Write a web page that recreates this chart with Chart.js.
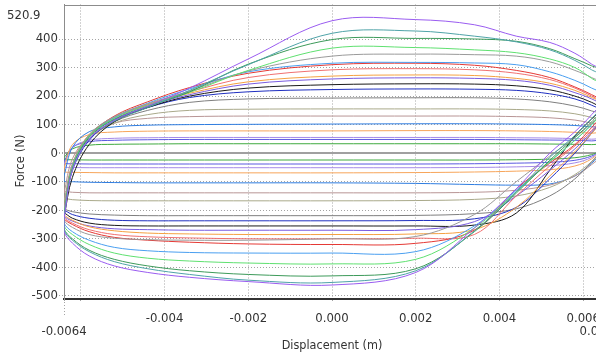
<!DOCTYPE html>
<html>
<head>
<meta charset="utf-8">
<script src="https://cdn.jsdelivr.net/npm/chart.js@4.4.1/dist/chart.umd.min.js"></script>
<style>
  html, body { margin: 0; padding: 0; background: #fff; overflow: hidden; }
  #wrap { width: 612px; height: 353px; }
</style>
</head>
<body>
<div id="wrap"><canvas id="loopChart" width="612" height="353"></canvas></div>
<script>
// =============================================================================
// Force / displacement hysteresis loops
// =============================================================================

// Displacement sample positions (m), shared by every branch
const XS = [-0.0064, -0.0062, -0.0058, -0.0052, -0.0044, -0.0034, -0.002, 0, 0.002, 0.0034, 0.0044, 0.0052, 0.0058, 0.0062, 0.0064];

const X_TICKS = [-0.0064, -0.006, -0.004, -0.002, 0, 0.002, 0.004, 0.006, 0.0064];
const Y_TICKS = [-500, -400, -300, -200, -100, 0, 100, 200, 300, 400];
const Y_MAX_LABEL = "520.9";
const X_TITLE = "Displacement (m)";
const Y_TITLE = "Force (N)";

// Force (N) read at XS: "Up" = outgoing branch, "Down" = return branch (both listed left to right)
const purpleUp = [-230, -60, 50, 115, 165, 228, 330, 464, 468, 450, 410, 388, 350, 312, 290];
const purpleDown = [-275, -315, -360, -395, -418, -435, -450, -462, -418, -262, -125, 0, 75, 135, 175];
const tealUp = [-225, -60, 50, 112, 160, 220, 310, 420, 428, 410, 390, 362, 325, 292, 272];
const tealDown = [-270, -305, -345, -380, -405, -425, -445, -453, -412, -272, -135, -15, 62, 122, 160];
const dkGreenUp = [-220, -55, 55, 118, 163, 215, 312, 398, 402, 400, 392, 366, 331, 306, 290];
const dkGreenDown = [-265, -300, -340, -372, -395, -412, -425, -430, -405, -275, -140, -25, 55, 110, 150];
const ltGreenUp = [-215, -50, 60, 122, 168, 213, 290, 368, 370, 362, 352, 330, 300, 262, 240];
const ltGreenDown = [-255, -285, -320, -350, -368, -378, -385, -388, -372, -262, -135, -30, 45, 100, 140];
const grayUp = [-200, -40, 65, 128, 173, 218, 288, 340, 347, 345, 340, 320, 290, 265, 245];
const grayDown = [-235, -260, -285, -298, -303, -305, -305, -300, -292, -215, -100, -10, 55, 105, 140];
const ltBlueUp = [-210, -45, 60, 125, 175, 225, 285, 315, 318, 316, 310, 285, 255, 228, 210];
const ltBlueDown = [-245, -275, -305, -330, -342, -348, -350, -350, -345, -255, -130, -30, 45, 100, 140];
const redUp = [-215, -50, 60, 130, 180, 230, 280, 310, 315, 308, 290, 265, 232, 205, 185];
const redDown = [-230, -250, -275, -295, -305, -312, -318, -320, -316, -270, -125, -35, 30, 90, 130];
const salmonUp = [-205, -45, 60, 125, 170, 215, 265, 292, 296, 292, 280, 258, 228, 200, 180];
const salmonDown = [-225, -245, -268, -285, -293, -297, -300, -300, -298, -285, -150, -45, 25, 80, 120];
const orangeUp = [-200, -40, 65, 125, 170, 210, 250, 270, 274, 272, 262, 245, 220, 195, 178];
const orangeDown = [-215, -235, -258, -272, -280, -283, -285, -285, -283, -268, -190, -80, 5, 70, 110];
const violetUp = [-205, -45, 60, 120, 165, 205, 242, 260, 264, 262, 255, 238, 212, 190, 170];
const violetDown = [-220, -238, -255, -265, -268, -270, -270, -270, -268, -240, -150, -60, 15, 75, 115];
const blackUp = [-225, -85, 30, 110, 160, 200, 228, 240, 243, 242, 236, 222, 200, 178, 160];
const blackDown = [-210, -228, -245, -253, -255, -255, -255, -255, -255, -252, -210, -60, 60, 120, 150];
const dkBlueUp = [-210, -60, 45, 115, 160, 195, 215, 223, 225, 224, 220, 208, 190, 168, 150];
const dkBlueDown = [-200, -215, -228, -235, -237, -237, -237, -237, -236, -230, -190, -90, 0, 70, 110];
const gray2Up = [-190, -50, 50, 110, 150, 178, 190, 193, 194, 194, 190, 180, 165, 148, 135];
const gray2Down = [-195, -205, -213, -217, -219, -219, -219, -219, -218, -212, -195, -150, -90, -30, 10];
const khakiUp = [-170, -40, 50, 105, 135, 150, 154, 155, 155, 155, 153, 148, 138, 125, 115];
const khakiDown = [-160, -163, -166, -167, -167, -167, -167, -167, -166, -162, -150, -120, -75, -30, 0];
const mauveUp = [-140, -20, 60, 105, 122, 128, 130, 130, 130, 130, 128, 124, 116, 105, 95];
const mauveDown = [-135, -137, -139, -139, -139, -139, -139, -139, -139, -137, -130, -112, -80, -40, -10];
const blueUp = [-80, 20, 75, 92, 98, 100, 101, 102, 103, 103, 102, 100, 97, 92, 88];
const blueDown = [-98, -100, -102, -103, -104, -104, -104, -104, -106, -110, -112, -108, -80, -35, 0];
const orange2Up = [-55, 30, 65, 74, 77, 78, 78, 78, 79, 79, 78, 76, 73, 70, 68];
const orange2Down = [-65, -67, -68, -69, -69, -69, -69, -69, -68, -66, -63, -58, -45, -20, 10];
const lavenderUp = [-40, 20, 45, 52, 54, 55, 55, 55, 55, 55, 54, 53, 51, 49, 47];
const lavenderDown = [-48, -50, -51, -51, -51, -51, -51, -51, -51, -50, -48, -44, -34, -15, 10];
const bVioletUp = [-30, 20, 40, 45, 47, 48, 48, 48, 48, 48, 47, 46, 45, 43, 42];
const bVioletDown = [-36, -37, -38, -38, -38, -38, -38, -38, -38, -37, -35, -32, -25, -10, 10];
const greenUp = [-15, 15, 28, 31, 32, 33, 33, 33, 33, 33, 33, 32, 31, 30, 29];
const greenDown = [-22, -23, -24, -24, -24, -24, -24, -24, -24, -24, -23, -21, -16, -5, 10];

const LOOPS = [
  { color: "#9a5cf0", up: purpleUp, down: purpleDown },
  { color: "#4fa3a8", up: tealUp, down: tealDown },
  { color: "#3d9a5a", up: dkGreenUp, down: dkGreenDown },
  { color: "#5fe070", up: ltGreenUp, down: ltGreenDown },
  { color: "#9a9a9a", up: grayUp, down: grayDown },
  { color: "#4a9ff0", up: ltBlueUp, down: ltBlueDown },
  { color: "#e53935", up: redUp, down: redDown },
  { color: "#f07070", up: salmonUp, down: salmonDown },
  { color: "#f5a142", up: orangeUp, down: orangeDown },
  { color: "#7a5ce0", up: violetUp, down: violetDown },
  { color: "#1a1a1a", up: blackUp, down: blackDown },
  { color: "#1f2fc0", up: dkBlueUp, down: dkBlueDown },
  { color: "#7f7f7f", up: gray2Up, down: gray2Down },
  { color: "#a9a98a", up: khakiUp, down: khakiDown },
  { color: "#b89595", up: mauveUp, down: mauveDown },
  { color: "#2f7de0", up: blueUp, down: blueDown },
  { color: "#f7a55a", up: orange2Up, down: orange2Down },
  { color: "#a58ae8", up: lavenderUp, down: lavenderDown },
  { color: "#5a5ae0", up: bVioletUp, down: bVioletDown },
  { color: "#3faa3f", up: greenUp, down: greenDown },
];

// closed loop: outgoing branch left->right, return branch right->left
function loopPoints(up, down) {
  const pts = XS.map((x, i) => ({ x, y: up[i] }));
  for (let i = XS.length - 1; i >= 0; i--) pts.push({ x: XS[i], y: down[i] });
  pts.push({ x: XS[0], y: up[0] });
  return pts;
}

const datasets = LOOPS.map(l => ({
  data: loopPoints(l.up, l.down),
  borderColor: l.color,
  borderWidth: 1,
  showLine: true,
  pointRadius: 0,
  tension: 0.35,
  fill: false,
}));

const FONT_FAMILY = '"DejaVu Sans Condensed", "Liberation Sans", Arial, sans-serif';
const GRID = "#a4a4a4";

// ---------------------------------------------------------------------------
// Frame, end labels, y title
// ---------------------------------------------------------------------------
const framePlugin = {
  id: "frame",
  afterDraw(chart) {
    const { ctx, chartArea: a, scales: { x } } = chart;
    ctx.save();
    ctx.strokeStyle = "#8c8c8c";
    ctx.lineWidth = 1;
    ctx.beginPath();
    ctx.moveTo(a.left, Math.round(a.top) + 0.5);
    ctx.lineTo(a.right, Math.round(a.top) + 0.5);
    ctx.stroke();
    // long tick under the minimum label
    ctx.setLineDash([1, 2]);
    ctx.strokeStyle = GRID;
    const x0 = Math.round(x.getPixelForValue(X_TICKS[0])) + 0.5;
    ctx.beginPath();
    ctx.moveTo(x0, a.bottom);
    ctx.lineTo(x0, a.bottom + 16);
    ctx.stroke();
    ctx.setLineDash([]);
    ctx.fillStyle = "#333";
    ctx.font = "13px " + FONT_FAMILY;
    ctx.textBaseline = "middle";
    ctx.textAlign = "left";
    ctx.fillText(Y_MAX_LABEL, 7, a.top + 11.5);
    ctx.textAlign = "center";
    ctx.fillText(X_TICKS[0].toString(), x.getPixelForValue(X_TICKS[0]), a.bottom + 33);
    ctx.fillText(X_TICKS[X_TICKS.length - 1].toString(), x.getPixelForValue(X_TICKS[X_TICKS.length - 1]), a.bottom + 33);
    // y axis title
    ctx.translate(21, 161);
    ctx.rotate(-Math.PI / 2);
    ctx.fillText(Y_TITLE, 0, 0);
    ctx.restore();
  }
};

new Chart(document.getElementById("loopChart"), {
  type: "scatter",
  data: { datasets },
  options: {
    responsive: false,
    animation: false,
    layout: { padding: { left: 0, right: 12, top: 4.5, bottom: 0 } },
    plugins: { legend: { display: false }, tooltip: { enabled: false } },
    scales: {
      x: {
        type: "linear",
        min: X_TICKS[0],
        max: X_TICKS[X_TICKS.length - 1],
        afterBuildTicks: s => { s.ticks = X_TICKS.map(v => ({ value: v })); },
        afterFit: s => { s.height = 54; s.paddingLeft = 0; s.paddingRight = 0; },
        grid: { color: GRID, lineWidth: 1, tickLength: 4, tickColor: GRID, tickBorderDash: [1, 2] },
        border: { display: true, color: "#333", width: 2, dash: [1, 2] },
        ticks: {
          autoSkip: false,
          maxRotation: 0,
          padding: 8,
          color: "#333",
          font: { family: FONT_FAMILY, size: 13 },
          callback: v => (Math.abs(v) > 0.0061 || v === -0.006 ? "" : v.toFixed(3)),
        },
        title: { display: true, text: X_TITLE, color: "#333", font: { family: FONT_FAMILY, size: 12.5 }, padding: { top: 0, bottom: 0 } },
      },
      y: {
        type: "linear",
        min: -511,
        max: 520.9,
        afterBuildTicks: s => { s.ticks = Y_TICKS.map(v => ({ value: v })); },
        afterFit: s => { s.width = 64; s.paddingTop = 0; s.paddingBottom = 0; },
        grid: {
          color: c => (c.tick && c.tick.value === 0 ? "#a0a0a0" : GRID),
          lineWidth: c => (c.tick && c.tick.value === 0 ? 2 : 1),
          tickLength: 5,
          tickColor: GRID,
          tickBorderDash: [1, 2],
        },
        border: { display: true, color: "#8c8c8c", width: 1, dash: c => (c.tick && c.tick.value === 0 ? [] : [1, 2]) },
        ticks: { padding: 1, color: "#333", font: { family: FONT_FAMILY, size: 13 }, callback: v => String(v) },
        title: { display: false },
      },
    },
  },
  plugins: [framePlugin],
});
</script>
</body>
</html>
